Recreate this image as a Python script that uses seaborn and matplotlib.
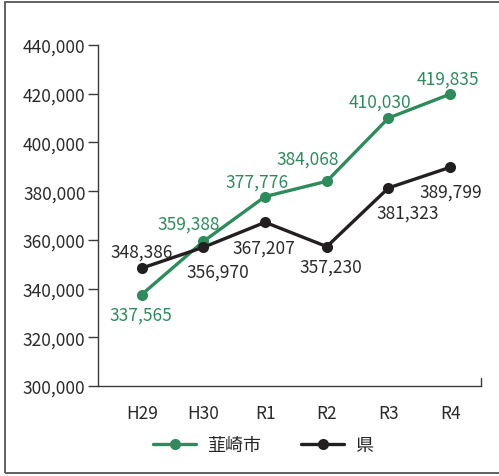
import matplotlib
matplotlib.use('Agg')
import matplotlib.pyplot as plt
import pandas as pd
import seaborn as sns
from matplotlib.patches import Rectangle
from matplotlib.ticker import FuncFormatter

# データ
years = ['H29', 'H30', 'R1', 'R2', 'R3', 'R4']
nirasaki = [337565, 359388, 377776, 384068, 410030, 419835]
ken = [348386, 356970, 367207, 357230, 381323, 389799]
series_names = ['韮崎市', '県']
colors = ['#2e8b5c', '#231f20']

sns.set_theme(style='white')
plt.rcParams['font.family'] = ['Noto Sans CJK JP', 'DejaVu Sans']

df = pd.DataFrame({
    '年度': years * 2,
    '値': nirasaki + ken,
    '区分': [series_names[0]] * len(years) + [series_names[1]] * len(years),
})

fig = plt.figure(figsize=(4.99, 4.77), dpi=100)
ax = fig.add_axes([98 / 499, 1 - 387 / 477, (481 - 98) / 499, (387 - 46) / 477])

sns.lineplot(data=df, x='年度', y='値', hue='区分', palette=colors,
             marker='o', markersize=8, markeredgewidth=0, linewidth=2.4,
             sort=False, ax=ax, legend=False)

ax.set_ylim(300000, 440000)
ax.set_xlim(-0.71, 5.5)
ax.set_yticks(range(300000, 440001, 20000))
ax.yaxis.set_major_formatter(FuncFormatter(lambda v, p: f'{int(v):,}'))
ax.set_xlabel('')
ax.set_ylabel('')
for s in ['top', 'right']:
    ax.spines[s].set_visible(False)
for s in ['left', 'bottom']:
    ax.spines[s].set_color('#3a3a3a')
    ax.spines[s].set_linewidth(1.0)
ax.tick_params(axis='y', left=True, length=7, width=1.0, color='#3a3a3a',
               labelsize=12.5, labelcolor='#2a2a2a', pad=2)
ax.tick_params(axis='x', bottom=False, labelsize=12.5, labelcolor='#2a2a2a', pad=7)
# 軸右端の小さな目盛り
ax.plot([1, 1], [0, 0.022], transform=ax.transAxes, color='#3a3a3a',
        lw=1.0, clip_on=False)

# データラベル
off_green = [(-1, -20), (-15, 18), (-8, 15), (-19, 23), (-9, 16), (-2, 15)]
off_black = [(0, 17), (14, -24), (-1, -25), (4, -20), (19, -25), (1, -24)]
for i, (v, o) in enumerate(zip(nirasaki, off_green)):
    ax.annotate(f'{v:,}', (i, v), textcoords='offset pixels', xytext=o,
                ha='center', va='center', fontsize=12.5, color=colors[0])
for i, (v, o) in enumerate(zip(ken, off_black)):
    ax.annotate(f'{v:,}', (i, v), textcoords='offset pixels', xytext=o,
                ha='center', va='center', fontsize=12.5, color='#2a2a2a')

# 凡例
handles = [plt.Line2D([], [], color=c, marker='o', markersize=8, linewidth=2.4,
                      markeredgewidth=0) for c in colors]
fig.legend(handles, series_names, loc='center', bbox_to_anchor=(263 / 499, 1 - 446 / 477),
           ncol=2, frameon=False, fontsize=13, handlelength=2.4, columnspacing=2.2,
           handletextpad=0.6)

# 枠線
fig.patches.append(Rectangle((5 / 499, 3 / 477), 1.2, 1 - 6 / 477,
                             transform=fig.transFigure, fill=False,
                             edgecolor='#555555', linewidth=1.3))

fig.savefig('out.png', dpi=100)
